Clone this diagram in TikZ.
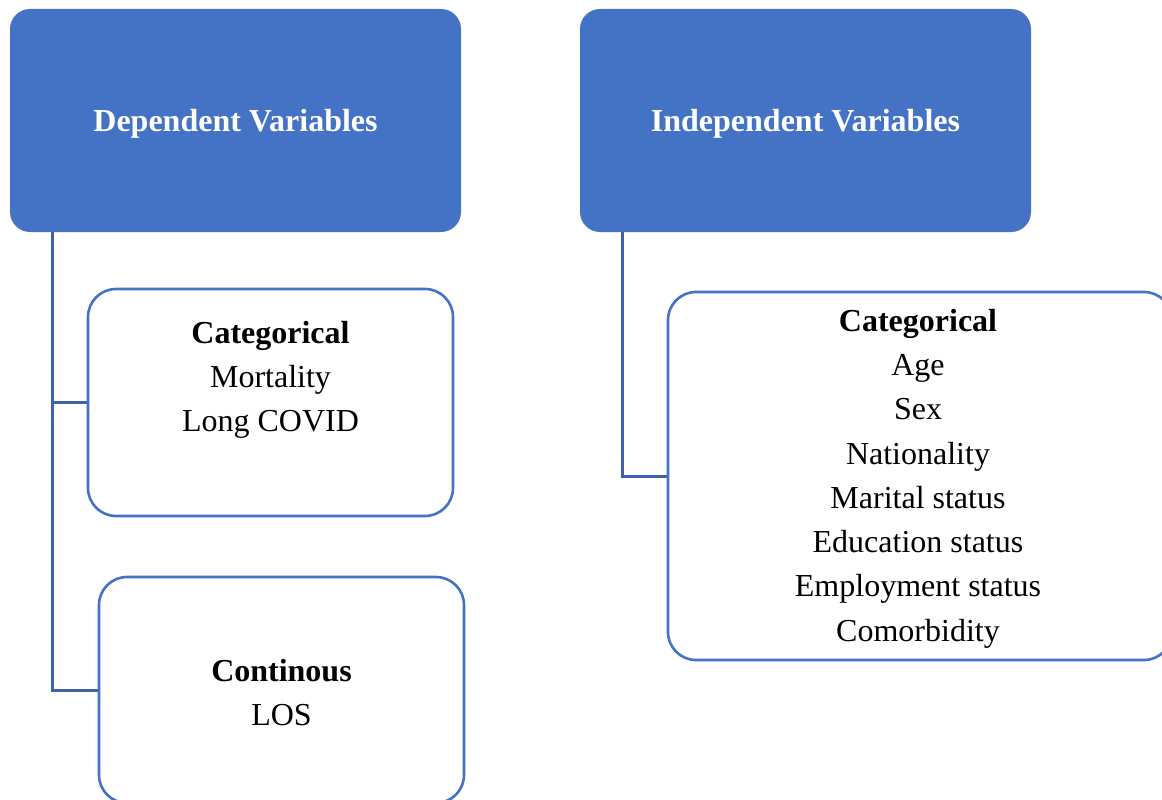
\documentclass[tikz,border=0pt]{standalone}
\usepackage{fontspec}
\setmainfont{Liberation Serif}
\definecolor{hdrblue}{HTML}{4472C4}
\definecolor{linkblue}{HTML}{3D62AA}
\begin{document}
\begin{tikzpicture}[x=1pt,y=-1pt,
  header/.style={fill=hdrblue, rounded corners=20pt, inner sep=0pt,
    minimum width=451pt, minimum height=223pt},
  headtext/.style={text=white, inner sep=0pt,
    font=\fontsize{32}{44.3}\selectfont\bfseries},
  catbox/.style={draw=hdrblue, line width=2.6pt, fill=white, rounded corners=28pt,
    inner sep=0pt},
  boxtext/.style={inner sep=0pt, align=center, font=\fontsize{32}{44.3}\selectfont},
  link/.style={draw=linkblue, line width=3pt}]
\useasboundingbox (0,0) rectangle (1162,800);

% column headers
\node[header] (dephdr) at (235.5,120.5) {};
\node[header] (indhdr) at (805.5,120.5) {};
\node[headtext] (dephdrtext) at ([yshift=-3pt]dephdr.center) {Dependent Variables};
\node[headtext] (indhdrtext) at ([yshift=-3pt]indhdr.center) {Independent Variables};

% trunk points below the headers
\coordinate (dtrunk) at ([xshift=43pt]dephdr.south west);
\coordinate (itrunk) at ([xshift=43pt]indhdr.south west);

% connectors
\draw[link] (dtrunk) |- (88,402.5);
\draw[link] (dtrunk) |- (99,690);
\draw[link] (itrunk) |- (668,476);

% category boxes
\node[catbox, minimum width=365pt, minimum height=227pt] (depcat) at (270.5,402.5) {};
\node[catbox, minimum width=365pt, minimum height=226pt] (depcont) at (281.5,690) {};
\node[catbox, minimum width=504pt, minimum height=368pt] (indcat) at (920,476) {};

\node[boxtext] (depcattext) at ([yshift=-2.5pt]depcat.center)
  {\textbf{Categorical}\\Mortality\\Long COVID\\ \strut};
\node[boxtext] (depconttext) at ([yshift=-2.5pt]depcont.center)
  {\textbf{Continous}\\LOS};
\node[boxtext] (indcattext) at ([xshift=-2pt,yshift=-2.5pt]indcat.center)
  {\textbf{Categorical}\\Age\\Sex\\Nationality\\Marital status\\Education status\\Employment status\\Comorbidity};
\end{tikzpicture}
\end{document}
